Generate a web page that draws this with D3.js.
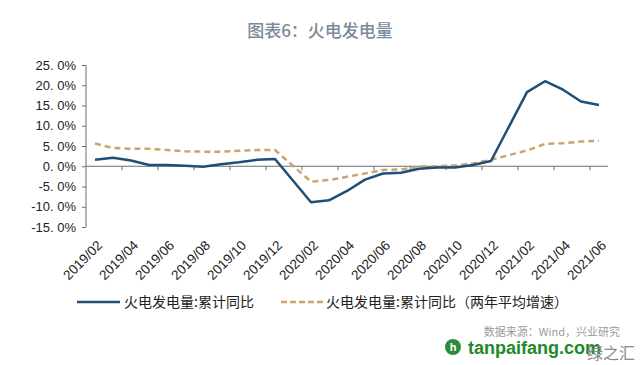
<!DOCTYPE html>
<html><head><meta charset="utf-8">
<script src="https://cdn.jsdelivr.net/npm/d3@7"></script>
<style>body{margin:0;background:#fff}svg{display:block}</style>
</head><body>
<svg id="c" width="641" height="365"></svg>
<script>
const categories = ["2019/02","2019/03","2019/04","2019/05","2019/06","2019/07","2019/08","2019/09","2019/10","2019/11","2019/12",
"2020/01","2020/02","2020/03","2020/04","2020/05","2020/06","2020/07","2020/08","2020/09","2020/10","2020/11","2020/12",
"2021/01","2021/02","2021/03","2021/04","2021/05","2021/06"];
const cumulativeYoY = [1.6,2.1,1.4,0.3,0.3,0.1,-0.1,0.5,1.0,1.6,1.8,
null,-8.9,-8.4,-6.1,-3.3,-1.8,-1.6,-0.6,-0.3,-0.3,0.3,1.3,
null,18.3,21.0,18.9,16.0,15.1];
const twoYearAvg = [5.6,4.5,4.3,4.3,4.0,3.7,3.6,3.6,3.8,4.0,4.0,
null,-3.8,-3.4,-2.6,-1.8,-0.9,-0.8,-0.1,0.0,0.2,0.7,1.6,
null,3.9,5.5,5.7,6.1,6.3];
const yTicks = [25,20,15,10,5,0,-5,-10,-15];
const xTickLabels = ["2019/02","2019/04","2019/06","2019/08","2019/10","2019/12","2020/02","2020/04","2020/06","2020/08","2020/10","2020/12","2021/02","2021/04","2021/06"];
const seriesNames = ["火电发电量:累计同比","火电发电量:累计同比（两年平均增速）"];
const title = "图表6：火电发电量";

const svg = d3.select("#c");
const x = d3.scaleBand().domain(categories).range([86,608]).paddingInner(0).paddingOuter(0);
const y = d3.scaleLinear().domain([-15,25]).range([227,65]);
const cx = c => x(c) + x.bandwidth()/2;
const axisColor = "#6e6e6e";
const font = "Arial, 'Liberation Sans', sans-serif";
const cjk = "'Noto Sans CJK SC', sans-serif";

svg.append("text").attr("x",320).attr("y",37).attr("text-anchor","middle")
  .attr("font-family",cjk).attr("font-size",17).attr("font-weight",500)
  .attr("fill","#7d8a99").text(title);

// y axis
const yAxis = d3.axisLeft(y).tickValues(yTicks).tickSize(4).tickPadding(6)
  .tickFormat(d => d3.format(".1f")(d).replace("−", "-").replace(".", ". ") + "%");
const gy = svg.append("g").attr("transform","translate(86,0)").call(yAxis);
gy.select(".domain").attr("stroke",axisColor).attr("d","M0,65V227");
gy.selectAll(".tick line").attr("stroke",axisColor);
gy.selectAll(".tick text").attr("font-family",font).attr("font-size",13).attr("fill","#222");

// x axis at zero
const gx = svg.append("g").attr("transform",`translate(0,${y(0)})`);
gx.append("line").attr("x1",86).attr("x2",608).attr("stroke",axisColor).attr("stroke-width",1);
const tickCats = categories.filter((c,i)=> i>0 && i%2===0);
gx.selectAll("line.t").data(tickCats).join("line").attr("class","t")
  .attr("x1",d=>x(d)).attr("x2",d=>x(d)).attr("y1",0).attr("y2",4).attr("stroke",axisColor);

// x labels
svg.append("g").selectAll("text").data(xTickLabels).join("text")
  .attr("transform",d=>`translate(${cx(d)+1},${239}) rotate(-45)`)
  .attr("text-anchor","end").attr("dy","0.75em")
  .attr("font-family",font).attr("font-size",13.5).attr("fill","#222").text(d=>d);

const line = vals => d3.line().x(d=>cx(d.c)).y(d=>y(d.v))(categories.map((c,i)=>({c,v:vals[i]})).filter(d=>d.v!==null));

svg.append("path").attr("d",line(twoYearAvg)).attr("fill","none").attr("stroke","#c9a46c")
  .attr("stroke-width",2.5).attr("stroke-dasharray","6,4");
svg.append("path").attr("d",line(cumulativeYoY)).attr("fill","none").attr("stroke","#1f4e79")
  .attr("stroke-width",2.5).attr("stroke-linejoin","round");

// legend
const lg = svg.append("g");
lg.append("line").attr("x1",77).attr("x2",120).attr("y1",302).attr("y2",302).attr("stroke","#1f4e79").attr("stroke-width",2.5);
lg.append("text").attr("x",124).attr("y",307).attr("font-family",cjk).attr("font-size",14).attr("fill","#222").text(seriesNames[0]);
lg.append("line").attr("x1",281).attr("x2",323).attr("y1",302).attr("y2",302).attr("stroke","#c9a46c").attr("stroke-width",2.5).attr("stroke-dasharray","6,3");
lg.append("text").attr("x",326).attr("y",307).attr("font-family",cjk).attr("font-size",14).attr("fill","#222").text(seriesNames[1]);

// source & watermark
svg.append("text").attr("x",620).attr("y",336).attr("text-anchor","end").attr("font-family",cjk)
  .attr("font-size",11).attr("fill","#9a9a9a").text("数据来源：Wind，兴业研究");
svg.append("circle").attr("cx",453).attr("cy",347).attr("r",8).attr("fill","#2e8b3a");
svg.append("text").attr("x",453).attr("y",351).attr("text-anchor","middle").attr("font-family",font).attr("font-size",11).attr("font-weight","bold").attr("fill","#fff").text("h");
svg.append("text").attr("x",468).attr("y",354).attr("font-family",font).attr("font-size",18).attr("font-weight","bold").attr("fill","#1e8a28").text("tanpaifang.com");
svg.append("text").attr("x",635).attr("y",359).attr("text-anchor","end").attr("font-family",cjk).attr("font-size",16).attr("fill","#8a8a8a").text("绿之汇");
</script>
</body></html>
